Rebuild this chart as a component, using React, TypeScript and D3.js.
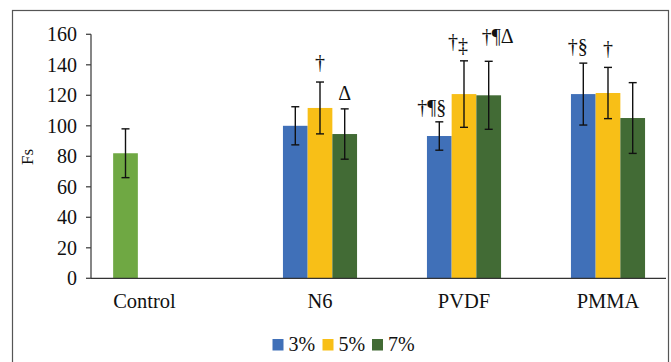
import * as d3 from "d3";
import { useEffect, useRef } from "react";

const W = 671;
const H = 362;
const margin = { top: 34, bottom: 84, left: 91, right: 5 };

const categories = ["Control", "N6", "PVDF", "PMMA"];
const seriesNames = ["3%", "5%", "7%"];
const colors = ["#4070B8", "#F8BF17", "#426B35"];
const controlColor = "#6FA843";

const controlValue = 82;
const controlErr = 16;

// rows: N6, PVDF, PMMA
const groups = ["N6", "PVDF", "PMMA"];
const values3 = [100, 93.3, 120.8];
const values5 = [111.7, 120.8, 121.5];
const values7 = [94.6, 120, 105.1];
const err3 = [12.5, 9.3, 20.3];
const err5 = [17, 21.8, 16.8];
const err7 = [16.5, 22.3, 23.2];
const marks3 = ["", "†¶§", "†§"];
const marks5 = ["†", "†‡", "†"];
const marks7 = ["Δ", "†¶Δ", ""];

const yTicks = [0, 20, 40, 60, 80, 100, 120, 140, 160];

// hand placement of the significance labels, [dx, dy from error cap]
const markNudge = {
  "N6-5%": [0, -13.5],
  "N6-7%": [0, -8.5],
  "PVDF-3%": [-7.5, -8],
  "PVDF-5%": [-6, -13],
  "PVDF-7%": [9, -18],
  "PMMA-3%": [-5.5, -10],
  "PMMA-5%": [0, -12],
};

const FONT = "Liberation Serif, Times New Roman, DejaVu Serif, serif";

const App = () => {
  const svgRef = useRef(null);

  useEffect(() => {
    const svg = d3.select(svgRef.current);
    svg.selectAll("*").remove();

    const plotBottom = 278.3;
    const y = d3.scaleLinear().domain([0, 160]).range([plotBottom, margin.top + 0.3]);
    const axisRight = W - margin.right;

    const step = 144;
    const x = d3
      .scaleBand()
      .domain(categories)
      .range([104, 104 + step * categories.length])
      .paddingInner(0);
    const xs = d3
      .scaleBand()
      .domain(seriesNames)
      .range([0, x.bandwidth()])
      .paddingInner(0)
      .paddingOuter(1.415);

    // frame
    svg
      .append("rect")
      .attr("x", 12.5)
      .attr("y", 10.5)
      .attr("width", 656)
      .attr("height", 370)
      .attr("fill", "white")
      .attr("stroke", "#555")
      .attr("stroke-width", 1.2);

    const series = [
      { name: "3%", vals: values3, errs: err3, marks: marks3, color: colors[0] },
      { name: "5%", vals: values5, errs: err5, marks: marks5, color: colors[1] },
      { name: "7%", vals: values7, errs: err7, marks: marks7, color: colors[2] },
    ];

    const bars = [];
    groups.forEach((g, gi) => {
      series.forEach((s) => {
        bars.push({
          key: `${g}-${s.name}`,
          x: x(g) + xs(s.name),
          w: xs.bandwidth(),
          v: s.vals[gi],
          e: s.errs[gi],
          mark: s.marks[gi],
          color: s.color,
        });
      });
    });

    // control bar sits left of its label
    const controlLabelX = x("Control") + x.bandwidth() / 2 - 31.5;
    bars.unshift({
      key: "Control",
      x: controlLabelX - 19 - xs.bandwidth() / 2,
      w: xs.bandwidth(),
      v: controlValue,
      e: controlErr,
      mark: "",
      color: controlColor,
    });

    svg
      .append("g")
      .selectAll("rect.bar")
      .data(bars)
      .join("rect")
      .attr("class", "bar")
      .attr("x", (d) => d.x)
      .attr("y", (d) => y(d.v))
      .attr("width", (d) => d.w)
      .attr("height", (d) => y(0) - y(d.v))
      .attr("fill", (d) => d.color);

    // axes
    const yAxis = svg.append("g").attr("stroke", "#444").attr("stroke-width", 1.3);
    yAxis
      .append("line")
      .attr("x1", margin.left)
      .attr("x2", margin.left)
      .attr("y1", y(160))
      .attr("y2", y(0));
    yAxis
      .selectAll("line.tick")
      .data(yTicks)
      .join("line")
      .attr("class", "tick")
      .attr("x1", margin.left - 5)
      .attr("x2", margin.left)
      .attr("y1", (d) => y(d))
      .attr("y2", (d) => y(d));

    const txt = svg.append("g").style("font-family", FONT).attr("fill", "#111");

    txt
      .selectAll("text.ytick")
      .data(yTicks)
      .join("text")
      .attr("class", "ytick")
      .attr("x", margin.left - 14)
      .attr("y", (d) => y(d) + 7)
      .attr("text-anchor", "end")
      .style("font-size", "20px")
      .text((d) => d);

    svg
      .append("line")
      .attr("x1", margin.left)
      .attr("x2", axisRight)
      .attr("y1", y(0))
      .attr("y2", y(0))
      .attr("stroke", "#333")
      .attr("stroke-width", 1.3);

    // error bars
    const eb = svg.append("g").attr("stroke", "#111").attr("stroke-width", 1.4);
    bars.forEach((d) => {
      const cx = d.x + d.w / 2;
      eb.append("line").attr("x1", cx).attr("x2", cx).attr("y1", y(d.v + d.e)).attr("y2", y(d.v - d.e));
      [d.v + d.e, d.v - d.e].forEach((v) => {
        eb.append("line")
          .attr("x1", cx - 4)
          .attr("x2", cx + 4)
          .attr("y1", y(v))
          .attr("y2", y(v));
      });
    });

    // significance marks
    const marks = txt
      .selectAll("text.mark")
      .data(bars.filter((d) => d.mark))
      .join("text")
      .attr("class", "mark")
      .attr("x", (d) => d.x + d.w / 2 + (markNudge[d.key] || [0, 0])[0])
      .attr("y", (d) => y(d.v + d.e) + (markNudge[d.key] || [0, -10])[1])
      .attr("text-anchor", "middle")
      .style("font-size", "20px");
    marks.each(function (d) {
      const t = d3.select(this);
      let lowered = false;
      Array.from(d.mark).forEach((ch) => {
        const low = ch === "‡";
        t.append("tspan")
          .attr("dy", low && !lowered ? 4 : !low && lowered ? -4 : 0)
          .text(ch);
        lowered = low;
      });
    });

    // category labels
    txt
      .selectAll("text.cat")
      .data(categories)
      .join("text")
      .attr("class", "cat")
      .attr("x", (d) => (d === "Control" ? controlLabelX : x(d) + x.bandwidth() / 2))
      .attr("y", 308)
      .attr("text-anchor", "middle")
      .style("font-size", "20.5px")
      .text((d) => d);

    // y label
    txt
      .append("text")
      .attr("transform", `translate(33, 157) rotate(-90)`)
      .attr("text-anchor", "middle")
      .style("font-size", "17px")
      .text("Fs");

    // legend
    const legendX = [272.5, 322.5, 372];
    const lg = txt
      .selectAll("g.legend")
      .data(seriesNames)
      .join("g")
      .attr("class", "legend")
      .attr("transform", (d, i) => `translate(${legendX[i]}, 339)`);
    lg.append("rect")
      .attr("width", 11)
      .attr("height", 11.5)
      .attr("fill", (d, i) => colors[i]);
    lg.append("text")
      .attr("x", 16)
      .attr("y", 12)
      .style("font-size", "20px")
      .text((d) => d);
  }, []);

  return (
    <svg
      ref={svgRef}
      width={W}
      height={H}
      style={{ position: "absolute", left: 0, top: 0, background: "white" }}
    />
  );
};

export default App;
